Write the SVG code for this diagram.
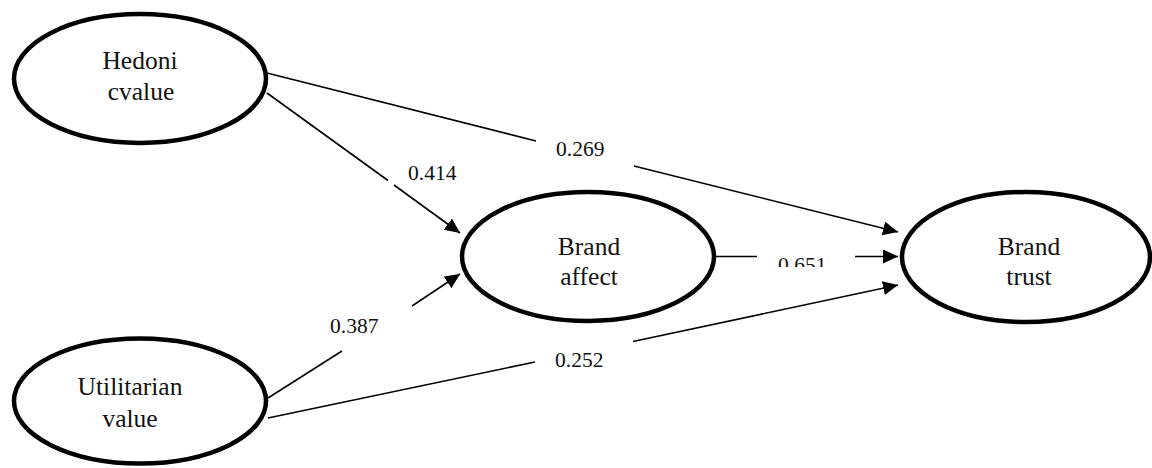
<svg xmlns="http://www.w3.org/2000/svg" width="1152" height="468" viewBox="0 0 1152 468">
<style>
.node ellipse{fill:#fff;stroke:#000;stroke-width:4.5}
.node text{font-family:"Liberation Serif","Times New Roman",serif;font-size:25.5px;fill:#111;text-anchor:middle}
.lbl{font-family:"Liberation Serif","Times New Roman",serif;font-size:21.5px;fill:#111}
.edge{stroke:#000;stroke-width:1.6;fill:none}
</style>
<defs>
<marker id="arr" markerUnits="userSpaceOnUse" markerWidth="16" markerHeight="16" refX="15" refY="7" orient="auto">
<path d="M0,0 L15,7 L0,14 Z" fill="#000"/>
</marker>
<clipPath id="clip651"><rect x="760" y="240" width="80" height="27"/></clipPath>
</defs>
<rect width="1152" height="468" fill="#fff"/>
<g id="connectors">
<line class="edge" x1="267" y1="73" x2="536" y2="141"/>
<line class="edge" x1="634" y1="166" x2="898" y2="232" marker-end="url(#arr)"/>
<line class="edge" x1="267" y1="93" x2="388" y2="180.5"/>
<line class="edge" x1="394" y1="185" x2="460" y2="233" marker-end="url(#arr)"/>
<line class="edge" x1="268" y1="398" x2="342" y2="351"/>
<line class="edge" x1="412" y1="306" x2="460" y2="274" marker-end="url(#arr)"/>
<line class="edge" x1="268" y1="418" x2="535" y2="362"/>
<line class="edge" x1="633" y1="341.5" x2="898" y2="285" marker-end="url(#arr)"/>
<line class="edge" x1="716" y1="256.5" x2="757" y2="256.5"/>
<line class="edge" x1="855" y1="256.5" x2="898" y2="256.5" marker-end="url(#arr)"/>
<text class="lbl" x="408" y="180">0.414</text>
<text class="lbl" x="556" y="156">0.269</text>
<text class="lbl" x="330" y="333">0.387</text>
<text class="lbl" x="555" y="367">0.252</text>
<text class="lbl" x="778" y="272" clip-path="url(#clip651)">0.651</text>
</g>
<g id="hedonic" class="node">
<ellipse cx="140" cy="78.5" rx="126" ry="64.5"/>
<text x="140" y="69">Hedoni</text>
<text x="141" y="100">cvalue</text>
</g>
<g id="utilitarian" class="node">
<ellipse cx="140" cy="401" rx="126" ry="62.5"/>
<text x="130" y="395">Utilitarian</text>
<text x="130" y="427">value</text>
</g>
<g id="brand-affect" class="node">
<ellipse cx="588" cy="256.5" rx="126" ry="64.5"/>
<text x="589" y="255">Brand</text>
<text x="589" y="285">affect</text>
</g>
<g id="brand-trust" class="node">
<ellipse cx="1026" cy="257" rx="124" ry="65"/>
<text x="1029" y="255">Brand</text>
<text x="1029" y="285">trust</text>
</g>
</svg>
